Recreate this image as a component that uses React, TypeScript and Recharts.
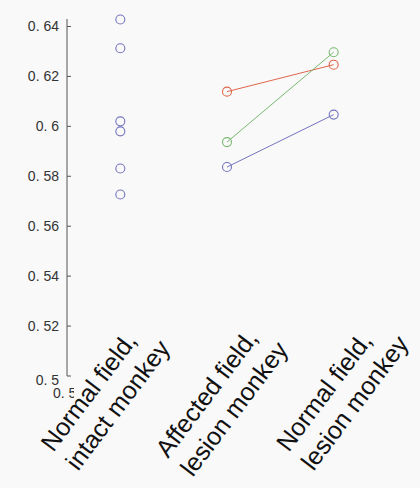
import { Scatter, ScatterChart, XAxis, YAxis } from 'recharts'

const CATEGORY_X = [1, 2, 3]
const CATEGORY_LABELS = [
  ['Normal field,', 'intact monkey'],
  ['Affected field,', 'lesion monkey'],
  ['Normal field,', 'lesion monkey'],
]
// where the first line of each rotated label starts, relative to its tick
const LABEL_DX = [-67, -59, -45]
const LABEL_DY = [77, 83, 77]

const Y_TICKS = [0.5, 0.52, 0.54, 0.56, 0.58, 0.6, 0.62, 0.64]
const X_TICKS = [0.5, 1, 2, 3]

const INTACT_VALUES = [0.6428, 0.6313, 0.602, 0.598, 0.5831, 0.5727]
const LESION_RED = [0.6139, 0.6247]
const LESION_GREEN = [0.5937, 0.6297]
const LESION_BLUE = [0.5837, 0.6047]

const BLUE = '#7474c0'
const RED = '#e0664a'
const GREEN = '#7ab872'
const TEXT = '#333333'
const FONT = "'Liberation Sans', Arial, sans-serif"

const intactData = INTACT_VALUES.map((v) => ({ x: CATEGORY_X[0], y: v }))
const toPair = (vals: number[]) => vals.map((v, i) => ({ x: CATEGORY_X[i + 1], y: v }))

function ring(color: string) {
  return (props: any) => (
    <circle cx={props.cx} cy={props.cy} r={4.5} fill="none" stroke={color} strokeWidth={1.1} />
  )
}

function formatTick(v: number): string {
  return String(v).replace('.', '. ')
}

function YTick(props: any) {
  const { x, y, payload } = props
  const dy = payload.value === 0.5 ? 9 : 5
  return (
    <g>
      <line x1={x} x2={x + 4} y1={y} y2={y} stroke="#555" strokeWidth={1} />
      <text x={x - 8} y={y + dy} textAnchor="end" fontSize={14} fill={TEXT} fontFamily={FONT}>
        {formatTick(payload.value)}
      </text>
    </g>
  )
}

function XTick(props: any) {
  const { x, y, payload } = props
  if (payload.value === 0.5) {
    return (
      <g>
        <clipPath id="half-tick-clip">
          <rect x={x - 30} y={y} width={37} height={30} />
        </clipPath>
        <text
          x={x - 14}
          y={y + 22}
          fontSize={14}
          fill={TEXT}
          fontFamily={FONT}
          clipPath="url(#half-tick-clip)"
        >
          {formatTick(payload.value)}
        </text>
      </g>
    )
  }
  const idx = CATEGORY_X.indexOf(payload.value)
  const lines = CATEGORY_LABELS[idx]
  const sx = x + LABEL_DX[idx]
  const sy = y + LABEL_DY[idx]
  return (
    <text
      transform={`translate(${sx},${sy}) rotate(-53)`}
      fontSize={25}
      fill="#111111"
      fontFamily={FONT}
    >
      {lines.map((line, i) => (
        <tspan key={i} x={0} y={i * 31}>
          {line}
        </tspan>
      ))}
    </text>
  )
}

export default function App() {
  return (
    <div style={{ position: 'absolute', left: 0, top: 0, width: 420, height: 488, background: '#f9f9f9' }}>
      <ScatterChart width={420} height={488} margin={{ top: 19, right: 33, bottom: 0, left: 7 }}>
        <XAxis
          type="number"
          dataKey="x"
          domain={[0.5, 3.5]}
          ticks={X_TICKS}
          interval={0}
          axisLine={false}
          tickLine={false}
          tickSize={0}
          tickMargin={0}
          height={112}
          tick={XTick}
        />
        <YAxis
          type="number"
          dataKey="y"
          domain={[0.5, 0.643]}
          ticks={Y_TICKS}
          interval={0}
          width={60}
          tickSize={0}
          tickMargin={0}
          tickLine={false}
          axisLine={{ stroke: '#555', strokeWidth: 1 }}
          tick={YTick}
        />
        <Scatter data={intactData} shape={ring(BLUE)} isAnimationActive={false} />
        <Scatter
          data={toPair(LESION_RED)}
          shape={ring(RED)}
          line={{ stroke: RED, strokeWidth: 1 }}
          isAnimationActive={false}
        />
        <Scatter
          data={toPair(LESION_GREEN)}
          shape={ring(GREEN)}
          line={{ stroke: GREEN, strokeWidth: 1 }}
          isAnimationActive={false}
        />
        <Scatter
          data={toPair(LESION_BLUE)}
          shape={ring(BLUE)}
          line={{ stroke: BLUE, strokeWidth: 1 }}
          isAnimationActive={false}
        />
      </ScatterChart>
    </div>
  )
}
